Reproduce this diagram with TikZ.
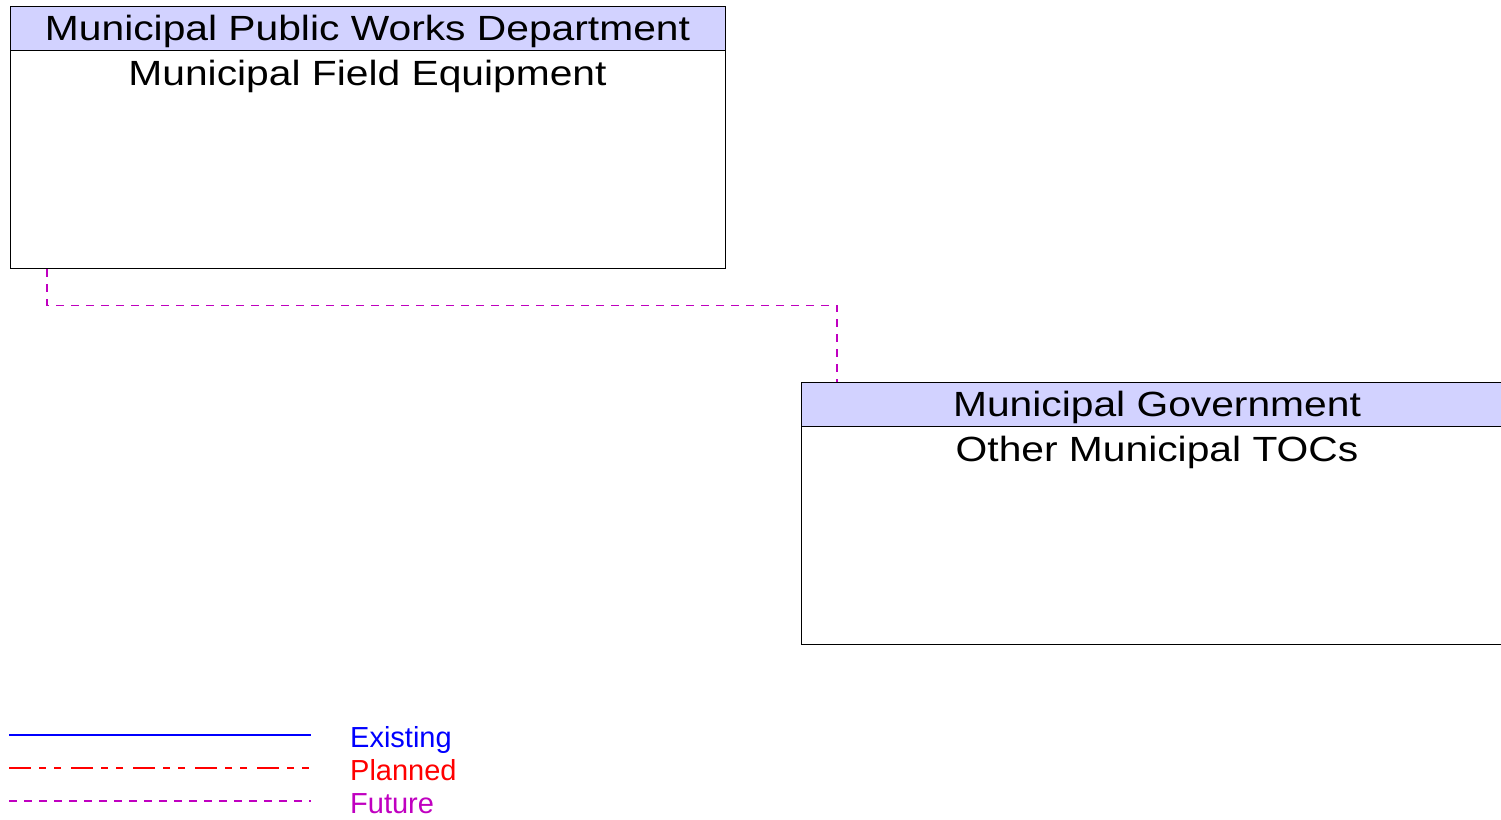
\documentclass[tikz,border=0pt]{standalone}
\usepackage{fontspec}
\setmainfont{Liberation Sans}
\definecolor{hdr}{RGB}{210,210,255}
\definecolor{fut}{RGB}{192,0,192}
\definecolor{pln}{RGB}{255,0,0}
\definecolor{exi}{RGB}{0,0,255}
\newcommand{\boxfont}{\fontsize{35}{40}\selectfont}
\newcommand{\legfont}{\fontsize{29}{33}\selectfont}
\newcommand{\wide}[1]{\scalebox{1.165}[1]{#1}}
\begin{document}
\begin{tikzpicture}[x=1pt,y=1pt,
  body/.style={draw=black, line width=1.4pt, fill=white, anchor=north west, inner sep=0pt},
  header/.style={draw=black, line width=1.4pt, fill=hdr, anchor=north west, inner sep=0pt},
  hdrtext/.style={font=\boxfont, inner sep=0pt},
  futureline/.style={color=fut, line width=1.2pt, dash pattern=on 8pt off 7pt},
  legtext/.style={font=\legfont, anchor=base west, inner sep=0pt}]
\useasboundingbox (0,0) rectangle (1501,-819);
% left box
\node[body, minimum width=715pt, minimum height=262pt] (a) at (10,-6) {};
\node[header, minimum width=715pt, minimum height=44pt] (ah) at (10,-6) {};
\node[hdrtext] (aht) at (367.5,-31) {\wide{Municipal Public Works Department}};
\node[hdrtext] (abt) at (367.5,-76) {\wide{Municipal Field Equipment}};
% right box
\node[body, minimum width=712pt, minimum height=262pt] (b) at (801,-382) {};
\node[header, minimum width=712pt, minimum height=44pt] (bh) at (801,-382) {};
\node[hdrtext] (bht) at (1157,-407) {\wide{Municipal Government}};
\node[hdrtext] (bbt) at (1157,-452) {\wide{Other Municipal TOCs}};
% connector
\draw[futureline] ([xshift=37pt]a.south west) -- ++(0,-36) -| ([xshift=36pt]bh.north west);
% legend
\coordinate (l1a) at (9,-735);
\coordinate (l1b) at (311,-735);
\coordinate (l2a) at (9,-768);
\coordinate (l2b) at (311,-768);
\coordinate (l3a) at (9,-801);
\coordinate (l3b) at (311,-801);
\draw[exi, line width=2.4pt] (l1a) -- (l1b);
\draw[pln, line width=1.2pt, dash pattern=on 22pt off 8pt on 7pt off 8pt on 7pt off 10pt] (l2a) -- (l2b);
\draw[futureline] (l3a) -- (l3b);
\node[legtext, text=exi] (le) at (350,-747) {Existing};
\node[legtext, text=pln] (lp) at (350,-780) {Planned};
\node[legtext, text=fut] (lf) at (350,-813) {Future};
\end{tikzpicture}
\end{document}
